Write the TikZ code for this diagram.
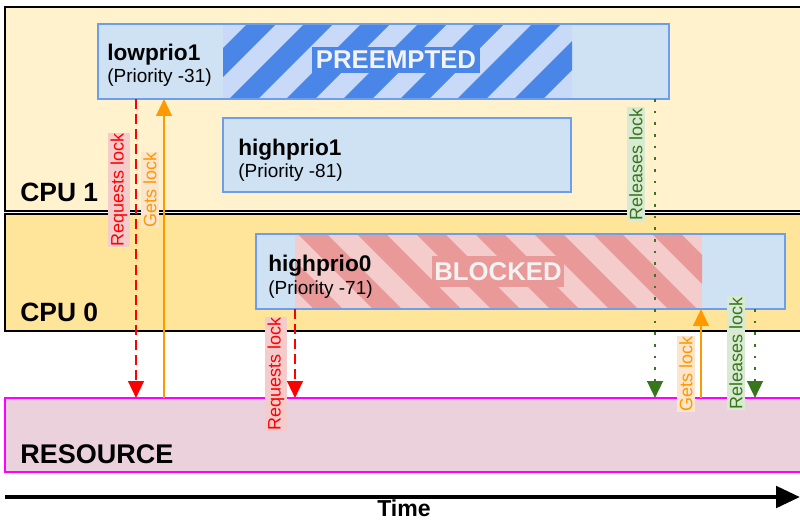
\documentclass[tikz,border=0pt]{standalone}
\usepackage{fontspec}
\setmainfont{Liberation Sans}
\usepackage{xcolor}
\usetikzlibrary{arrows.meta}
\definecolor{cpuonefill}{HTML}{FFF2CC}
\definecolor{cpuzerofill}{HTML}{FFE599}
\definecolor{taskfill}{HTML}{CFE2F3}
\definecolor{taskdraw}{HTML}{6D9EEB}
\definecolor{predark}{HTML}{4A86E8}
\definecolor{prelight}{HTML}{C9DAF8}
\definecolor{blkdark}{HTML}{EA9999}
\definecolor{blklight}{HTML}{F4CCCC}
\definecolor{resfill}{HTML}{EAD1DC}
\definecolor{resdraw}{HTML}{FF00FF}
\definecolor{statetext}{HTML}{F3F3F3}
\definecolor{lockred}{HTML}{FF0000}
\definecolor{lockredbg}{HTML}{F4CCCC}
\definecolor{lockorange}{HTML}{FF9900}
\definecolor{lockorangebg}{HTML}{FCE5CD}
\definecolor{lockgreen}{HTML}{38761D}
\definecolor{lockgreenbg}{HTML}{D9EAD3}

\begin{document}
\begin{tikzpicture}[line cap=butt,line join=miter,x=0.025cm,y=-0.025cm,
	cpubox/.style={draw=black,line width=1.1pt},
	taskline/.style={draw=taskdraw,line width=1.pt},
	tasktitle/.style={anchor=base west,inner sep=0pt,font=\fontsize{16.1}{18}\selectfont\bfseries},
	taskprio/.style={anchor=base west,inner sep=0pt,font=\fontsize{13.5}{16}\selectfont},
	biglabel/.style={anchor=base west,inner sep=0pt,font=\fontsize{18.8}{22}\selectfont\bfseries},
	statelabel/.style={text=statetext,text depth=0pt,font=\fontsize{18.3}{22}\selectfont\bfseries},
	locklabel/.style={rotate=90,inner xsep=0.5pt,inner ysep=1.8pt,font=\fontsize{12.8}{15}\selectfont},
	reqarrow/.style={draw=lockred,line width=1.7pt,dash pattern=on 7.1pt off 3.6pt,-{Triangle[length=12pt,width=11pt]}},
	getarrow/.style={draw=lockorange,line width=1.7pt,-{Triangle[length=12pt,width=11pt]}},
	relarrow/.style={draw=lockgreen,line width=1.9pt,dash pattern=on 1.9pt off 6.4pt,-{Triangle[length=12pt,width=11pt]}}]
	\useasboundingbox (0,0) rectangle (800,521);
	\clip (0,0) rectangle (800,521);
	% cpu lanes and resource
	\draw [cpubox,fill=cpuonefill] (5,7) rectangle (812,211);
	\draw [cpubox,fill=cpuzerofill] (5,214) rectangle (812,331);
	\draw [line width=1.pt,draw=resdraw,fill=resfill] (5,398) rectangle (812,472);
	% lowprio1, preempted part
	\fill [taskfill] (98,24) rectangle (669,99);
	\begin{scope}
		\clip (223,24) rectangle (572,99);
		\fill [prelight] (223,24) rectangle (572,99);
		\foreach \c in {214,271,...,670}
			\fill [predark] (\c-24,24) -- (\c+5,24) -- (\c-70,99) -- (\c-99,99) -- cycle;
	\end{scope}
	\draw [taskline] (98,24) rectangle (669,99);
	% highprio1
	\draw [taskline,fill=taskfill] (223,118) rectangle (571,192);
	% highprio0, blocked part
	\fill [taskfill] (256,234) rectangle (785,309);
	\begin{scope}
		\clip (295,234) rectangle (702,309);
		\fill [blklight] (295,234) rectangle (702,309);
		\foreach \c in {-54,5,...,477}
			\fill [blkdark] (\c+234,234) -- (\c+263,234) -- (\c+338,309) -- (\c+309,309) -- cycle;
	\end{scope}
	\draw [taskline] (256,234) rectangle (785,309);
	% texts
	\node [tasktitle] (lp1name) at (107,60) {lowprio1};
	\node [taskprio] (lp1prio) at (107,82) {(Priority -31)};
	\node [tasktitle] (hp1name) at (238,155) {highprio1};
	\node [taskprio] (hp1prio) at (238,177) {(Priority -81)};
	\node [tasktitle] (hp0name) at (268,271) {highprio0};
	\node [taskprio] (hp0prio) at (268,294) {(Priority -71)};
	\node [statelabel,fill=predark,inner xsep=3pt,inner ysep=3pt] (preempted) at (396,60) {PREEMPTED};
	\node [statelabel,fill=blkdark,inner xsep=2pt,inner ysep=4.5pt] (blocked) at (498,271.5) {BLOCKED};
	\node [biglabel] (cpuone) at (20,201) {CPU 1};
	\node [biglabel] (cpuzero) at (20,321) {CPU 0};
	\node [biglabel,font=\fontsize{19.2}{22}\selectfont\bfseries] (resource) at (20,463) {RESOURCE};
	% lock events
	\coordinate (lp1req) at (136,99);
	\coordinate (resreqa) at (136,398);
	\coordinate (resgeta) at (164,398);
	\coordinate (lp1get) at (164,99);
	\coordinate (hp0req) at (295,309);
	\coordinate (resreqb) at (295,398);
	\coordinate (lp1rel) at (655,99);
	\coordinate (resrela) at (655,398);
	\coordinate (resgetb) at (701,398);
	\coordinate (hp0get) at (701,309);
	\coordinate (hp0rel) at (755,309);
	\coordinate (resrelb) at (755,398);
	\draw [reqarrow] (lp1req) -- (resreqa);
	\draw [getarrow] (resgeta) -- (lp1get);
	\draw [reqarrow] (hp0req) -- (resreqb);
	\draw [relarrow] (lp1rel) -- (resrela);
	\draw [getarrow] (resgetb) -- (hp0get);
	\draw [relarrow] (hp0rel) -- (resrelb);
	\node [locklabel,fill=lockredbg,text=lockred] (reqlabela) at (119,190) {Requests lock};
	\node [locklabel,fill=lockorangebg,text=lockorange] (getlabela) at (150,190) {Gets lock};
	\node [locklabel,fill=lockredbg,text=lockred] (reqlabelb) at (276,374) {Requests lock};
	\node [locklabel,fill=lockgreenbg,text=lockgreen] (rellabela) at (636,164) {Releases lock};
	\node [locklabel,fill=lockorangebg,text=lockorange] (getlabelb) at (686,374) {Gets lock};
	\node [locklabel,fill=lockgreenbg,text=lockgreen] (rellabelb) at (736,353) {Releases lock};
	% time axis
	\coordinate (tstart) at (5,497);
	\coordinate (tend) at (800,497);
	\draw [line width=3.3pt,-{Triangle[length=17pt,width=15pt]}] (tstart) -- (tend);
	\node [anchor=base,inner sep=0pt,font=\fontsize{16.4}{19}\selectfont\bfseries] (time) at (404,516) {Time};
\end{tikzpicture}
\end{document}
